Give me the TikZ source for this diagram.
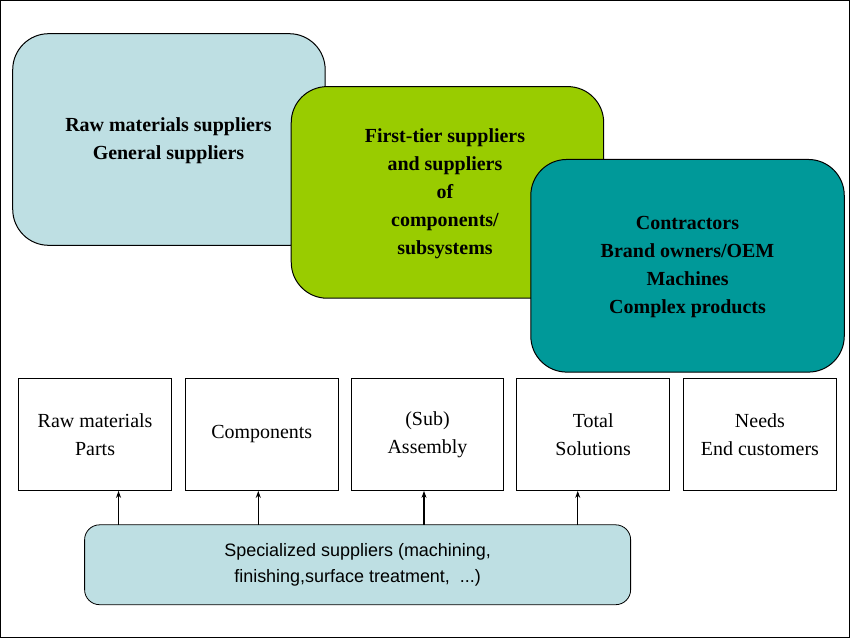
\documentclass[tikz,border=0pt]{standalone}
\usepackage{fontspec}
\setmainfont{Liberation Serif}
\newfontfamily\arial{Liberation Sans}
\usetikzlibrary{arrows.meta}
\definecolor{lblue}{HTML}{BEDFE3}
\definecolor{lgreen}{HTML}{99CC00}
\definecolor{teal2}{HTML}{009999}
\tikzset{
 big/.style={draw=black,line width=1pt,rounded corners=36pt,align=center,font=\fontsize{20}{28}\selectfont\bfseries},
 small/.style={draw=black,line width=0.8pt,fill=white,align=center,minimum width=153pt,minimum height=113pt,font=\fontsize{20}{28}\selectfont},
 arr/.style={-{Stealth[length=7pt,width=5pt]},line width=1.2pt}
}
\begin{document}
\begin{tikzpicture}[x=1pt,y=-1pt]
\path[use as bounding box,draw=black,fill=white,line width=1.5pt] (0,0) rectangle (850,638);
\draw[big,fill=lblue] (12,33) rectangle (325,245);
\node[font=\fontsize{20}{28}\selectfont\bfseries,align=center] (b1) at (168,140) {Raw materials suppliers\\General suppliers};
\draw[big,fill=lgreen] (291,86) rectangle (604,298);
\node[font=\fontsize{20}{28}\selectfont\bfseries,align=center] (b2) at (445,193) {First-tier suppliers\\and suppliers\\of\\components/\\subsystems};
\draw[big,fill=teal2] (531,159) rectangle (845,372);
\node[font=\fontsize{20}{28}\selectfont\bfseries,align=center] (b3) at (688,267) {Contractors\\Brand owners/OEM\\Machines\\Complex products};
\node[small] (s1) at (94.5,434.5) {Raw materials\\Parts};
\node[small] (s2) at (261.5,434.5) {Components};
\node[small] (s3) at (427.5,434.5) {(Sub)\\Assembly};
\node[small] (s4) at (593.5,434.5) {Total\\Solutions};
\node[small] (s5) at (760.5,434.5) {Needs\\End customers};
\node[draw=black,line width=0.8pt,fill=lblue,rounded corners=15pt,minimum width=547pt,minimum height=80pt,align=center,font=\arial\fontsize{18}{26}\selectfont] (sp) at (357.5,565) {Specialized suppliers (machining,\\finishing,surface treatment,\ \ ...)};
\foreach \x in {118,258,424,578}{
 \draw[arr] (\x,525) -- (\x,491);
}
\end{tikzpicture}
\end{document}
